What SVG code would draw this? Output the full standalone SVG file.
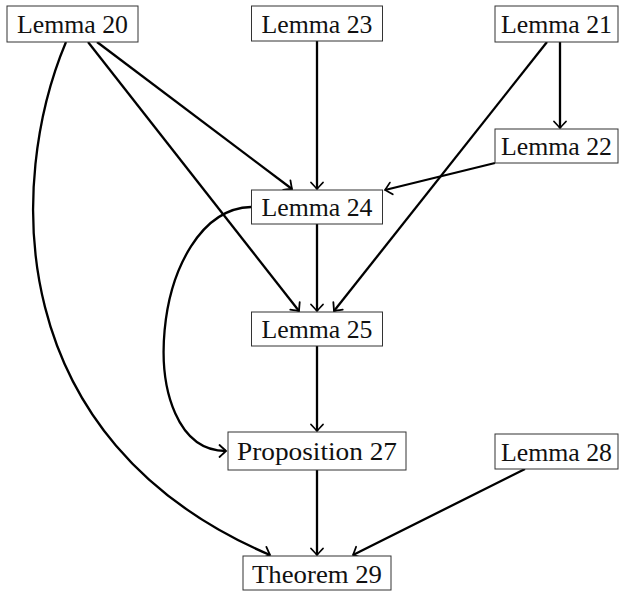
<svg xmlns="http://www.w3.org/2000/svg" width="621" height="592" viewBox="0 0 621 592">
<defs>
<marker id="arr" markerUnits="userSpaceOnUse" markerWidth="14" markerHeight="14" refX="0" refY="0" viewBox="-8 -7 10 14" orient="auto" overflow="visible">
<path d="M-6.5,-6 Q-1.5,-1.3 0,0 Q-1.5,1.3 -6.5,6" fill="none" stroke="#000" stroke-width="1.8" stroke-linecap="round"/>
</marker>
<style>
.box{fill:#fff;stroke:#333;stroke-width:1}
.lbl{font-family:"Liberation Serif","Times New Roman",serif;font-size:26px;fill:#111;text-anchor:middle}
.e{fill:none;stroke:#000;stroke-width:2.3;marker-end:url(#arr)}
</style>
</defs>
<rect width="621" height="592" fill="#fff"/>
<g id="edges">
<path class="e" d="M97,42 L292,189"/>
<path class="e" d="M88,42 L299,311"/>
<path class="e" d="M66,42 C8,180 0,440 270,555"/>
<path class="e" d="M317,41 L317,189"/>
<path class="e" d="M560,42 L560,128"/>
<path class="e" d="M547,42 L334,311"/>
<path class="e" d="M495,163 L385,190"/>
<path class="e" d="M317,224 L317,311"/>
<path class="e" d="M251,207 C150,210 130,451 226,451"/>
<path class="e" d="M317,346 L317,431"/>
<path class="e" d="M317,470 L317,555"/>
<path class="e" d="M525,469 L353,555"/>
</g>
<g id="lemma20"><rect class="box" x="7" y="6" width="131" height="36"/><text class="lbl" x="72.5" y="33" textLength="111" lengthAdjust="spacingAndGlyphs">Lemma 20</text></g>
<g id="lemma23"><rect class="box" x="251.5" y="6" width="131" height="35"/><text class="lbl" x="317" y="33" textLength="111" lengthAdjust="spacingAndGlyphs">Lemma 23</text></g>
<g id="lemma21"><rect class="box" x="495" y="6" width="123" height="36"/><text class="lbl" x="556.5" y="33" textLength="111" lengthAdjust="spacingAndGlyphs">Lemma 21</text></g>
<g id="lemma22"><rect class="box" x="495" y="129" width="123" height="34"/><text class="lbl" x="556.5" y="155" textLength="111" lengthAdjust="spacingAndGlyphs">Lemma 22</text></g>
<g id="lemma24"><rect class="box" x="251.5" y="190" width="131" height="34"/><text class="lbl" x="317" y="216" textLength="111" lengthAdjust="spacingAndGlyphs">Lemma 24</text></g>
<g id="lemma25"><rect class="box" x="251.5" y="312" width="131" height="34"/><text class="lbl" x="317" y="338" textLength="111" lengthAdjust="spacingAndGlyphs">Lemma 25</text></g>
<g id="prop27"><rect class="box" x="228" y="432" width="178" height="38"/><text class="lbl" x="317" y="460" textLength="160" lengthAdjust="spacingAndGlyphs">Proposition 27</text></g>
<g id="lemma28"><rect class="box" x="495" y="434" width="123" height="35"/><text class="lbl" x="556.5" y="461" textLength="111" lengthAdjust="spacingAndGlyphs">Lemma 28</text></g>
<g id="thm29"><rect class="box" x="243" y="556" width="148" height="34"/><text class="lbl" x="317" y="583" textLength="130" lengthAdjust="spacingAndGlyphs">Theorem 29</text></g>
</svg>
